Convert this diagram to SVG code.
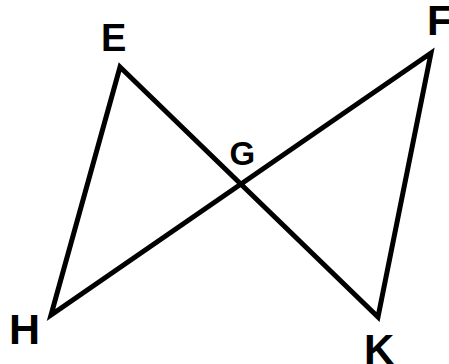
<svg xmlns="http://www.w3.org/2000/svg" width="449" height="364" viewBox="0 0 449 364">
<style>
.lbl{font-family:"Liberation Sans",Arial,sans-serif;font-weight:bold;fill:#000}
.ln{fill:none;stroke:#000;stroke-width:5;stroke-linejoin:miter;stroke-miterlimit:10}
</style>
<rect width="449" height="364" fill="#fff"/>
<g id="connectors">
<path class="ln" d="M120,67 L378,317 L431,53 L51,315 Z"/>
</g>
<g id="E"><text class="lbl" x="101" y="51" font-size="38">E</text></g>
<g id="F"><text class="lbl" x="427" y="35" font-size="42">F</text></g>
<g id="G"><text class="lbl" x="229.5" y="165" font-size="33">G</text></g>
<g id="H"><text class="lbl" x="9" y="344" font-size="43">H</text></g>
<g id="K"><text class="lbl" x="364" y="364" font-size="42">K</text></g>
</svg>
